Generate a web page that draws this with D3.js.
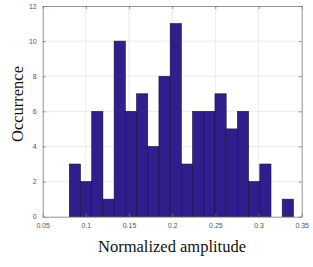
<!DOCTYPE html>
<html lang="en">
<head>
    <meta charset="UTF-8">
    <title>Histogram</title>
    <script src="https://cdnjs.cloudflare.com/ajax/libs/d3/7.9.0/d3.min.js"></script>
    <style>
        body { margin: 0; background: white; }
        .tick text { font-family: "Liberation Sans", Arial, sans-serif; font-size: 7px; fill: #555; }
        .label { font-family: "Liberation Serif", serif; font-size: 16.5px; fill: #111; }
    </style>
</head>
<body>
<svg id="chart" width="313" height="267"></svg>
<script>
    // histogram data
    const binStart = 0.0808;
    const binWidth = 0.01298;
    const counts = [3, 2, 6, 1, 10, 6, 7, 4, 8, 11, 3, 6, 6, 7, 5, 6, 2, 3, 0, 1];
    const xTicks = [0.05, 0.1, 0.15, 0.2, 0.25, 0.3, 0.35];
    const yTicks = [0, 2, 4, 6, 8, 10, 12];

    const m = {left: 42.7, right: 301.7, top: 6, bottom: 216.7};
    const svg = d3.select('#chart');

    const x = d3.scaleLinear().domain([0.05, 0.35]).range([m.left, m.right]);
    const y = d3.scaleLinear().domain([0, 12]).range([m.bottom, m.top]);

    // grid
    svg.append('g').selectAll('line').data(xTicks.slice(1, -1)).join('line')
        .attr('x1', d => x(d)).attr('x2', d => x(d))
        .attr('y1', m.top).attr('y2', m.bottom)
        .attr('stroke', '#e6e6e6').attr('stroke-width', 0.8);
    svg.append('g').selectAll('line').data(yTicks.slice(1, -1)).join('line')
        .attr('x1', m.left).attr('x2', m.right)
        .attr('y1', d => y(d)).attr('y2', d => y(d))
        .attr('stroke', '#e6e6e6').attr('stroke-width', 0.8);

    // bars
    const bins = counts.map((c, i) => ({x0: binStart + i * binWidth, x1: binStart + (i + 1) * binWidth, c}));
    svg.append('g').selectAll('rect').data(bins.filter(b => b.c > 0)).join('rect')
        .attr('x', d => x(d.x0))
        .attr('width', d => x(d.x1) - x(d.x0))
        .attr('y', d => y(d.c))
        .attr('height', d => y(0) - y(d.c))
        .attr('fill', '#2f1f8c')
        .attr('stroke', '#1a1040')
        .attr('stroke-width', 0.6);

    // axes (MATLAB style box, ticks inside)
    const axColor = '#777';
    const xAxis = d3.axisBottom(x).tickValues(xTicks).tickFormat(d3.format('')).tickSizeInner(-3).tickSizeOuter(0).tickPadding(6);
    const yAxis = d3.axisLeft(y).tickValues(yTicks).tickSizeInner(-3).tickSizeOuter(0).tickPadding(6);
    const gx = svg.append('g').attr('transform', `translate(0,${m.bottom})`).call(xAxis);
    const gy = svg.append('g').attr('transform', `translate(${m.left},0)`).call(yAxis);
    const gxTop = svg.append('g').attr('transform', `translate(0,${m.top})`)
        .call(d3.axisTop(x).tickValues(xTicks).tickSizeInner(-3).tickSizeOuter(0).tickFormat(''));
    const gyRight = svg.append('g').attr('transform', `translate(${m.right},0)`)
        .call(d3.axisRight(y).tickValues(yTicks).tickSizeInner(-3).tickSizeOuter(0).tickFormat(''));
    [gx, gy, gxTop, gyRight].forEach(g => {
        g.selectAll('path').attr('stroke', axColor).attr('stroke-width', 0.8);
        g.selectAll('line').attr('stroke', axColor).attr('stroke-width', 0.8);
    });

    // labels
    svg.append('text').attr('class', 'label')
        .attr('x', 172).attr('y', 252)
        .attr('text-anchor', 'middle')
        .text('Normalized amplitude');
    svg.append('text').attr('class', 'label')
        .attr('transform', 'translate(23,104) rotate(-90)')
        .attr('text-anchor', 'middle')
        .text('Occurrence');
</script>
</body>
</html>
